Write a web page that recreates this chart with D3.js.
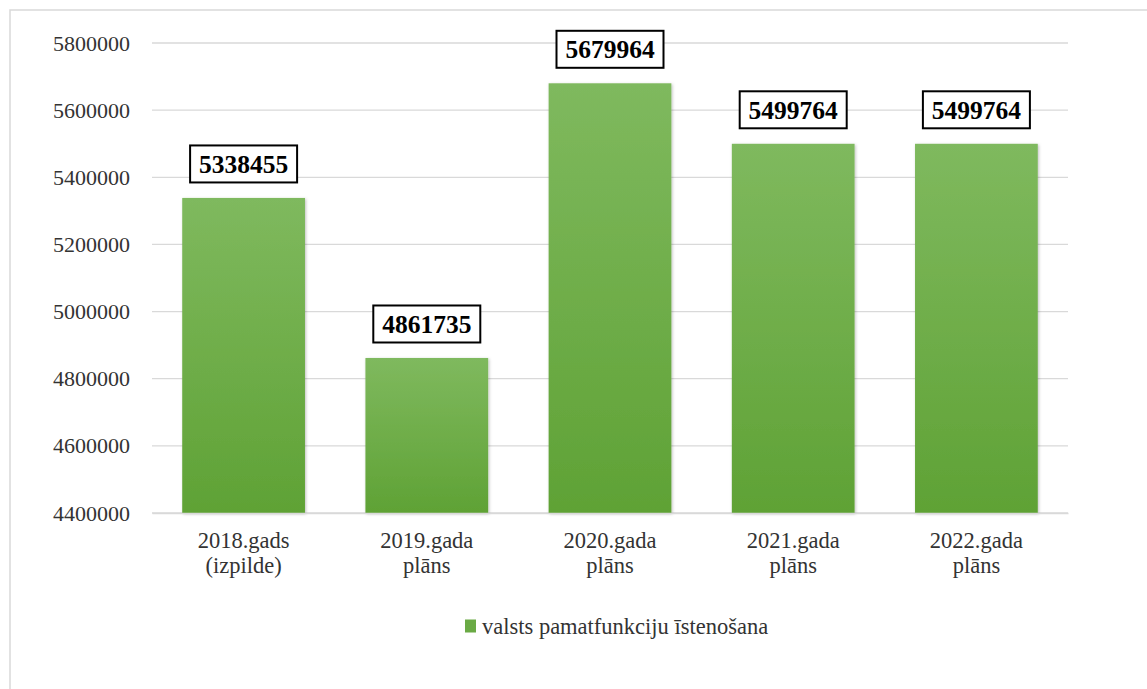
<!DOCTYPE html>
<html>
<head>
<meta charset="utf-8">
<script src="https://cdn.jsdelivr.net/npm/d3@7"></script>
<style>
    body { margin: 0; background: #ffffff; }
</style>
</head>
<body>
<div id="chart"></div>
<script>
// chart data
var categories = [["2018.gads", "(izpilde)"], ["2019.gada", "plāns"], ["2020.gada", "plāns"], ["2021.gada", "plāns"], ["2022.gada", "plāns"]];
var values = [5338455, 4861735, 5679964, 5499764, 5499764];
var yTicks = [4400000, 4600000, 4800000, 5000000, 5200000, 5400000, 5600000, 5800000];
var seriesName = "valsts pamatfunkciju īstenošana";

var serif = "'Liberation Serif'";

function main() {

    var W = 1147, H = 689;
    var margin = { top: 43, right: 79, bottom: 176, left: 152 },
        width = W - margin.left - margin.right,
        height = H - margin.top - margin.bottom;

    var root = d3.select("#chart")
        .append("svg")
        .attr("width", W)
        .attr("height", H);

    // gradient + shadow for bars
    var defs = root.append("defs");
    var grad = defs.append("linearGradient")
        .attr("id", "barGrad")
        .attr("x1", 0).attr("y1", 0).attr("x2", 0).attr("y2", 1);
    grad.append("stop").attr("offset", "0%").attr("stop-color", "#7fb95e");
    grad.append("stop").attr("offset", "100%").attr("stop-color", "#5fa235");
    var f = defs.append("filter").attr("id", "shadow")
        .attr("x", "-10%").attr("y", "-10%").attr("width", "130%").attr("height", "130%");
    f.append("feDropShadow").attr("dx", 1).attr("dy", 1).attr("stdDeviation", 1.5)
        .attr("flood-color", "#000").attr("flood-opacity", 0.25);

    // outer frame
    root.append("rect")
        .attr("x", 10).attr("y", 10)
        .attr("width", W + 20).attr("height", H + 20)
        .attr("fill", "none")
        .attr("stroke", "#d9d9d9")
        .attr("stroke-width", 1.5);

    var svg = root.append("g")
        .attr("transform", "translate(" + margin.left + "," + margin.top + ")");

    var x = d3.scaleBand()
        .domain(d3.range(categories.length))
        .range([0, width])
        .paddingInner(0.33)
        .paddingOuter(0.165);

    var y = d3.scaleLinear()
        .domain([4400000, 5800000])
        .range([height, 0]);

    // gridlines
    svg.append("g")
        .selectAll("line")
        .data(yTicks)
        .enter()
        .append("line")
        .attr("x1", 0)
        .attr("x2", width)
        .attr("y1", function (d) { return y(d); })
        .attr("y2", function (d) { return y(d); })
        .attr("stroke", "#d9d9d9")
        .attr("stroke-width", 1.3);

    // y axis labels
    var yAxis = svg.append("g")
        .call(d3.axisLeft(y).tickValues(yTicks).tickSize(0).tickPadding(22).tickFormat(d3.format("d")));
    yAxis.select(".domain").remove();
    yAxis.selectAll("text")
        .style("font-family", serif)
        .style("font-size", "22px")
        .attr("fill", "#333333");

    // bars
    svg.append("g")
        .selectAll("rect")
        .data(values)
        .enter()
        .append("rect")
        .attr("x", function (d, i) { return x(i); })
        .attr("y", function (d) { return y(d); })
        .attr("width", x.bandwidth())
        .attr("height", function (d) { return height - y(d); })
        .attr("fill", "url(#barGrad)")
        .attr("filter", "url(#shadow)");

    // x axis
    var xAxis = svg.append("g")
        .attr("transform", "translate(0," + height + ")")
        .call(d3.axisBottom(x).tickSize(0).tickFormat(""));
    xAxis.select(".domain").attr("stroke", "#d9d9d9").attr("stroke-width", 1.3);
    xAxis.selectAll(".tick text").remove();
    xAxis.selectAll(".tick")
        .append("text")
        .attr("text-anchor", "middle")
        .attr("fill", "#333333")
        .style("font-family", serif)
        .style("font-size", "22.5px")
        .selectAll("tspan")
        .data(function (d) { return categories[d]; })
        .enter()
        .append("tspan")
        .attr("x", 0)
        .attr("y", function (d, i) { return 35 + i * 25; })
        .text(function (d) { return d; });

    // data labels in boxes
    var lab = svg.append("g")
        .selectAll("g")
        .data(values)
        .enter()
        .append("g")
        .attr("transform", function (d, i) {
            return "translate(" + (x(i) + x.bandwidth() / 2) + "," + (y(d) - 34) + ")";
        });
    lab.append("rect")
        .attr("x", -53.5)
        .attr("y", -18.5)
        .attr("width", 107)
        .attr("height", 37)
        .attr("fill", "#ffffff")
        .attr("stroke", "#000000")
        .attr("stroke-width", 2);
    lab.append("text")
        .attr("text-anchor", "middle")
        .attr("dy", "0.35em")
        .style("font-family", serif)
        .style("font-weight", "bold")
        .style("font-size", "25.5px")
        .attr("fill", "#000")
        .text(function (d) { return d; });

    // legend
    var lg = root.append("g").attr("transform", "translate(465,626)");
    lg.append("rect")
        .attr("x", 0).attr("y", -6.5)
        .attr("width", 11).attr("height", 13)
        .attr("fill", "#6aaa45");
    lg.append("text")
        .attr("x", 17)
        .attr("y", 8)
        .style("font-family", serif)
        .style("font-size", "22.5px")
        .attr("fill", "#333333")
        .text(seriesName);
}
window.addEventListener('load', main);
</script>
</body>
</html>
